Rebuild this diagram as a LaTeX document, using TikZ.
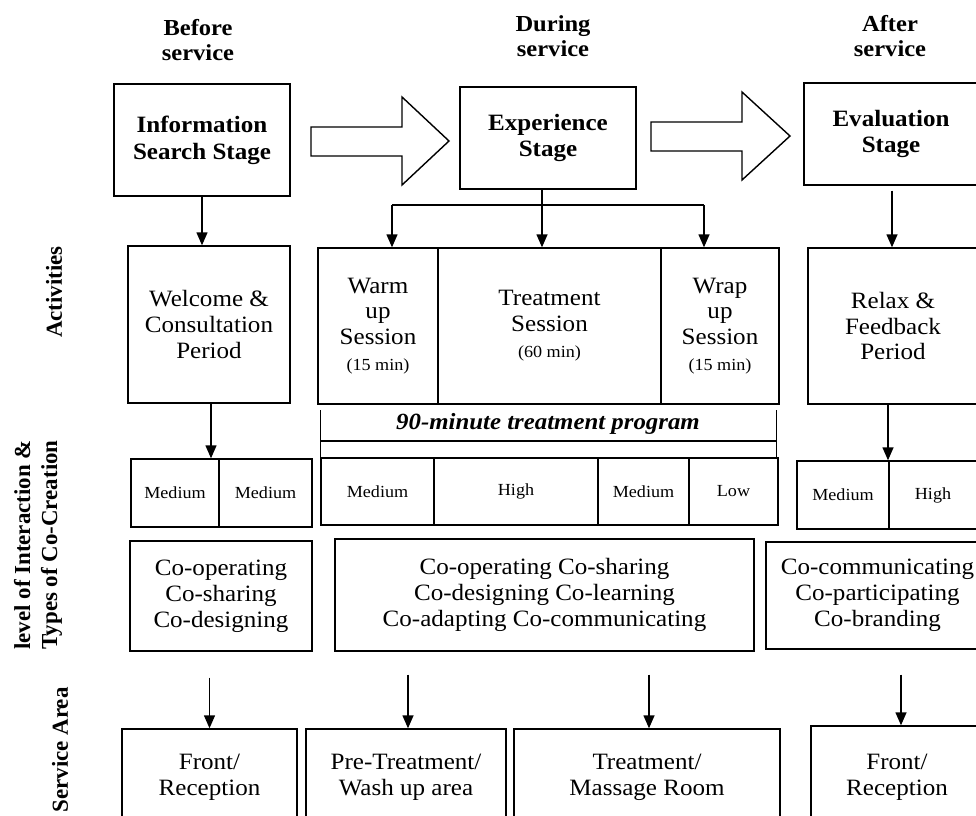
\documentclass[tikz,border=0pt]{standalone}
\usepackage{fontspec}
\setmainfont{Liberation Serif}[FakeStretch=1.07]
\newfontfamily\sidefont{Liberation Serif}
\usetikzlibrary{arrows.meta}
\tikzset{
  bx/.style={draw, line width=1.4bp, inner sep=0pt, align=center, font=\fontsize{23.5}{26}\selectfont},
  stagebx/.style={bx, font=\fontsize{23.5}{27}\selectfont\bfseries},
  cellbx/.style={bx, font=\fontsize{17}{20}\selectfont},
  hdr/.style={align=center, inner sep=0pt, font=\fontsize{23}{25}\selectfont\bfseries},
  side/.style={align=center, inner sep=0pt, rotate=90, font=\sidefont\fontsize{23}{27}\selectfont\bfseries},
  ln/.style={line width=1.4bp},
  arr/.style={line width=1.4bp, -{Triangle[width=11bp,length=13bp]}},
  blockarr/.style={draw, line width=1.4bp, line join=miter, fill=white},
}
\newcommand{\smalltxt}[1]{{\fontsize{17}{20}\selectfont #1}}
% \cbox{style}{name}{x1}{y1}{x2}{y2}{text}
\newcommand{\cbox}[7]{\node[#1, minimum width={(#5-#3)*1bp}, minimum height={(#6-#4)*1bp}] (#2) at ({(#3+#5)/2},{(#4+#6)/2}) {#7};}
\begin{document}
\begin{tikzpicture}[x=1bp, y=-1bp]
\useasboundingbox (0,0) rectangle (976,816);
\clip (0,0) rectangle (976,816);
\fill[white] (0,0) rectangle (976,816);

% headers
\node[hdr] (hb) at (198,40) {Before\\service};
\node[hdr] (hd) at (553,36) {During\\service};
\node[hdr] (ha) at (890,36) {After\\service};

% stage boxes
\cbox{stagebx}{s1}{114}{84}{290}{196}{Information\\Search Stage}
\cbox{stagebx}{s2}{460}{87}{636}{189}{Experience\\Stage}
\cbox{stagebx}{s3}{804}{83}{978}{185}{Evaluation\\Stage}

% block arrows
\draw[blockarr] (311,127) -- (402,127) -- (402,97) -- (449,141) -- (402,185) -- (402,156) -- (311,156) -- cycle;
\draw[blockarr] (651,122) -- (742,122) -- (742,92) -- (790,136) -- (742,180) -- (742,151) -- (651,151) -- cycle;

% activities
\cbox{bx}{w}{128}{246}{290}{403}{Welcome \&\\Consultation\\Period}
\cbox{bx}{warm}{318}{248}{438}{404}{Warm\\up\\Session\\\smalltxt{(15 min)}}
\cbox{bx}{treat}{438}{248}{661}{404}{Treatment\\Session\\\smalltxt{(60 min)}}
\cbox{bx}{wrap}{661}{248}{779}{404}{Wrap\\up\\Session\\\smalltxt{(15 min)}}
\cbox{bx}{relax}{808}{248}{978}{404}{Relax \&\\Feedback\\Period}

% connectors stage -> activities
\draw[arr] (s1.south) -- (s1.south |- w.north);
\coordinate (ex) at (542,205);
\coordinate (bl) at (392,205);
\coordinate (br) at (704,205);
\draw[arr] (ex |- s2.south) -- (ex |- treat.north);
\draw[ln] (bl) -- (br);
\draw[arr] (bl) -- (bl |- warm.north);
\draw[arr] (br) -- (br |- wrap.north);
\draw[arr, shorten <=5bp] (892,0 |- s3.south) -- (892,0 |- relax.north);

% 90-minute bracket
\node[font=\fontsize{23.3}{26}\selectfont\bfseries\itshape, inner sep=0pt] (ninety) at (548,424) {90-minute treatment program};

% interaction levels
\cbox{cellbx}{l1}{131}{459}{219}{527}{Medium}
\cbox{cellbx}{l2}{219}{459}{312}{527}{Medium}
\cbox{cellbx}{m1}{321}{458}{434}{525}{Medium}
\cbox{cellbx}{m2}{434}{458}{598}{525}{High}
\cbox{cellbx}{m3}{598}{458}{689}{525}{Medium}
\cbox{cellbx}{m4}{689}{458}{778}{525}{Low}
\cbox{cellbx}{r1}{797}{461}{889}{529}{Medium}
\cbox{cellbx}{r2}{889}{461}{977}{529}{High}

\draw[ln] (m1.north west) -- ++(0,-47);
\draw[ln] ([xshift=-2bp]m4.north east) -- ++(0,-47);
\draw[ln] (m1.north west |- 0,441) -- ([xshift=-2bp]m4.north east |- 0,441);

\draw[arr] (211,0 |- w.south) -- (211,0 |- l1.north);
\draw[arr] (888,0 |- relax.south) -- (888,0 |- r1.north);

% co-creation types
\cbox{bx}{cL}{130}{541}{312}{651}{Co-operating\\Co-sharing\\Co-designing}
\cbox{bx}{cM}{335}{539}{754}{651}{Co-operating Co-sharing\\Co-designing Co-learning\\Co-adapting Co-communicating}
\cbox{bx}{cR}{766}{542}{989}{649}{Co-communicating\\Co-participating\\Co-branding}

% service areas
\cbox{bx}{sa1}{122}{729}{297}{825}{Front/\\Reception}
\cbox{bx}{sa2}{306}{729}{506}{825}{Pre-Treatment/\\Wash up area}
\cbox{bx}{sa3}{514}{729}{780}{825}{Treatment/\\Massage Room}
\cbox{bx}{sa4}{811}{726}{983}{828}{Front/\\Reception}

\draw[arr, shorten <=26bp] (sa1.north |- cL.south) -- (sa1.north);
\draw[arr, shorten <=23bp] (408,0 |- cM.south) -- (408,0 |- sa2.north);
\draw[arr, shorten <=23bp] (649,0 |- cM.south) -- (649,0 |- sa3.north);
\draw[arr, shorten <=25bp] (901,0 |- cR.south) -- (901,0 |- sa4.north);

% side labels
\node[side] (lact) at (54,292) {Activities};
\node[side] (lint) at (38,545) {level of Interaction \&\\Types of Co-Creation};
\node[side] (lsa) at (60,750) {Service Area};
\end{tikzpicture}
\end{document}
